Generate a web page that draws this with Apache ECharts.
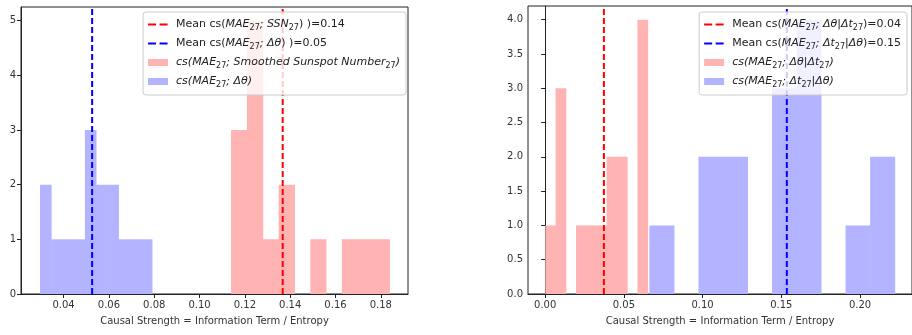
<!DOCTYPE html>
<html>
<head>
<meta charset="utf-8">
<script src="https://cdn.jsdelivr.net/npm/echarts@6/dist/echarts.min.js"></script>
<style>
html, body { margin: 0; padding: 0; background: #fff; }
#chart { width: 912px; height: 335px; }
</style>
</head>
<body>
<div id="chart"></div>
<script>
// bin edges + counts
var leftRedEdges = [0.1139, 0.1209, 0.1279, 0.1349, 0.1419, 0.1489, 0.1558, 0.1628, 0.1698, 0.1768, 0.1838];
var leftRedCounts = [3, 5, 1, 2, 0, 1, 0, 1, 1, 1];
var leftBlueEdges = [0.0296, 0.0345, 0.0395, 0.0444, 0.0494, 0.0543, 0.0592, 0.0642, 0.0691, 0.0741, 0.0790];
var leftBlueCounts = [2, 1, 1, 1, 3, 2, 2, 1, 1, 1];

var rightRedEdges = [0.0001, 0.0066, 0.0131, 0.0196, 0.0261, 0.0326, 0.0391, 0.0456, 0.0521, 0.0586, 0.0651];
var rightRedCounts = [1, 3, 0, 1, 1, 1, 2, 2, 0, 4];
var rightBlueEdges = [0.0662, 0.0818, 0.0974, 0.1129, 0.1285, 0.1441, 0.1597, 0.1752, 0.1908, 0.2064, 0.2220];
var rightBlueCounts = [1, 0, 2, 2, 0, 3, 4, 0, 1, 2];

// mean lines
var leftMeans = [0.1367, 0.0526];   // red, blue
var rightMeans = [0.0373, 0.1535];  // red, blue

// ticks
var leftXTicks = [0.04, 0.06, 0.08, 0.10, 0.12, 0.14, 0.16, 0.18];
var leftYTicks = [0, 1, 2, 3, 4, 5];
var rightXTicks = [0.00, 0.05, 0.10, 0.15, 0.20];
var rightYTicks = [0, 0.5, 1, 1.5, 2, 2.5, 3, 3.5, 4];

// legend labels (rich text: n normal, i italic, s subscript)
var legendLabels = {
    mL1: '{n|Mean cs(}{i|MAE}{s|27}{i|; SSN}{s|27}{n|) )=0.14}',
    mL2: '{n|Mean cs(}{i|MAE}{s|27}{i|; Δθ}{n|) )=0.05}',
    hL1: '{i|cs(MAE}{s|27}{i|; Smoothed Sunspot Number}{s|27}{i|)}',
    hL2: '{i|cs(MAE}{s|27}{i|; Δθ)}',
    mR1: '{n|Mean cs(}{i|MAE}{s|27}{i|; Δθ|Δt}{s|27}{n|)=0.04}',
    mR2: '{n|Mean cs(}{i|MAE}{s|27}{i|; Δt}{s|27}{i||Δθ}{n|)=0.15}',
    hR1: '{i|cs(MAE}{s|27}{i|; Δθ|Δt}{s|27}{i|)}',
    hR2: '{i|cs(MAE}{s|27}{i|; Δt}{s|27}{i||Δθ)}'
};

var RED = '#ff0000', BLUE = '#0000ff';
var RED_BAR = '#ffb3b3', BLUE_BAR = '#b3b3ff';
var FONT = 'DejaVu Sans';
// two short dashes, bounding box 20x7
var DASH_ICON = 'path://M0,0M20,7M0,2.5H8V4.5H0ZM11.5,2.5H19.5V4.5H11.5Z';

function bins(edges, counts) {
    var out = [];
    for (var i = 0; i < counts.length; i++) {
        if (counts[i] > 0) out.push([edges[i], edges[i + 1], counts[i]]);
    }
    return out;
}

function renderBin(params, api) {
    var p0 = api.coord([api.value(0), api.value(2)]);
    var p1 = api.coord([api.value(1), 0]);
    return {
        type: 'rect',
        shape: { x: p0[0], y: p0[1], width: p1[0] - p0[0] + 0.5, height: p1[1] - p0[1] },
        style: { fill: api.visual('color'), stroke: null, lineWidth: 0 }
    };
}

function renderMean(params, api) {
    var x = api.coord([api.value(0), 0])[0];
    var cs = params.coordSys;
    return {
        type: 'line',
        shape: { x1: x, y1: cs.y + cs.height, x2: x, y2: cs.y },
        style: { stroke: api.visual('color'), lineWidth: 2, lineDash: [6, 3] }
    };
}

function histSeries(name, idx, edges, counts, color) {
    return {
        name: name, type: 'custom', xAxisIndex: idx, yAxisIndex: idx,
        renderItem: renderBin,
        encode: { x: [0, 1], y: 2 },
        itemStyle: { color: color },
        data: bins(edges, counts),
        silent: true, z: 2
    };
}

function meanSeries(name, idx, value, color) {
    return {
        name: name, type: 'custom', xAxisIndex: idx, yAxisIndex: idx,
        renderItem: renderMean,
        encode: { x: 0 },
        itemStyle: { color: color },
        data: [[value]],
        silent: true, z: 3
    };
}

function xAxis(idx, min, max, ticks, dec) {
    return {
        type: 'value', gridIndex: idx, min: min, max: max,
        splitLine: { show: false },
        axisLine: { lineStyle: { color: '#222' } },
        axisTick: { customValues: ticks, length: 4, lineStyle: { color: '#222' } },
        axisLabel: {
            customValues: ticks, margin: 6, color: '#333', fontSize: 10, fontFamily: FONT,
            formatter: function (v) { return v.toFixed(dec); }
        },
        name: 'Causal Strength = Information Term / Entropy',
        nameLocation: 'middle', nameGap: 22,
        nameTextStyle: { color: '#333', fontSize: 10, fontFamily: FONT }
    };
}

function yAxis(idx, max, ticks, dec) {
    return {
        type: 'value', gridIndex: idx, min: 0, max: max,
        splitLine: { show: false },
        axisLine: { show: true, lineStyle: { color: '#222' } },
        axisTick: { show: true, customValues: ticks, length: 4, lineStyle: { color: '#222' } },
        axisLabel: {
            customValues: ticks, margin: 5, color: '#333', fontSize: 10, fontFamily: FONT,
            formatter: function (v) { return v.toFixed(dec); }
        }
    };
}

function legend(pos, names) {
    var l = {
        top: 12, orient: 'vertical',
        data: names.map(function (n) {
            return { name: n, icon: n.charAt(0) === 'h' ? 'rect' : DASH_ICON };
        }),
        itemWidth: 20, itemHeight: 7, itemGap: 6,
        padding: [7, 6, 6, 5],
        backgroundColor: 'rgba(255,255,255,0.8)',
        borderColor: '#cccccc', borderWidth: 1, borderRadius: 3,
        selectedMode: false,
        formatter: function (n) { return legendLabels[n]; },
        textStyle: {
            color: '#222', fontSize: 11, fontFamily: FONT, padding: [0, 0, 0, 3],
            rich: {
                n: { fontSize: 11, lineHeight: 15, fontFamily: FONT, color: '#222' },
                i: { fontSize: 11, lineHeight: 15, fontFamily: FONT, fontStyle: 'italic', color: '#222' },
                s: { fontSize: 8, lineHeight: 8, verticalAlign: 'bottom', fontFamily: FONT, color: '#222' }
            }
        }
    };
    for (var k in pos) l[k] = pos[k];
    return l;
}

var chart = echarts.init(document.getElementById('chart'));
var option = {
    backgroundColor: '#fff',
    animation: false,
    grid: [
        { left: 21, top: 7, width: 387, height: 287, show: true, borderColor: '#222', borderWidth: 1 },
        { left: 528, top: 6, width: 385, height: 288, show: true, borderColor: '#222', borderWidth: 1 }
    ],
    xAxis: [
        xAxis(0, 0.0212, 0.192, leftXTicks, 2),
        xAxis(1, -0.0109, 0.233, rightXTicks, 2)
    ],
    yAxis: [
        yAxis(0, 5.25, leftYTicks, 0),
        yAxis(1, 4.2, rightYTicks, 1)
    ],
    legend: [
        legend({ right: 912 - 406 }, ['mL1', 'mL2', 'hL1', 'hL2']),
        legend({ right: 5 }, ['mR1', 'mR2', 'hR1', 'hR2'])
    ],
    series: [
        histSeries('hL1', 0, leftRedEdges, leftRedCounts, RED_BAR),
        histSeries('hL2', 0, leftBlueEdges, leftBlueCounts, BLUE_BAR),
        meanSeries('mL1', 0, leftMeans[0], RED),
        meanSeries('mL2', 0, leftMeans[1], BLUE),
        histSeries('hR1', 1, rightRedEdges, rightRedCounts, RED_BAR),
        histSeries('hR2', 1, rightBlueEdges, rightBlueCounts, BLUE_BAR),
        meanSeries('mR1', 1, rightMeans[0], RED),
        meanSeries('mR2', 1, rightMeans[1], BLUE)
    ]
};
chart.setOption(option);
</script>
</body>
</html>
